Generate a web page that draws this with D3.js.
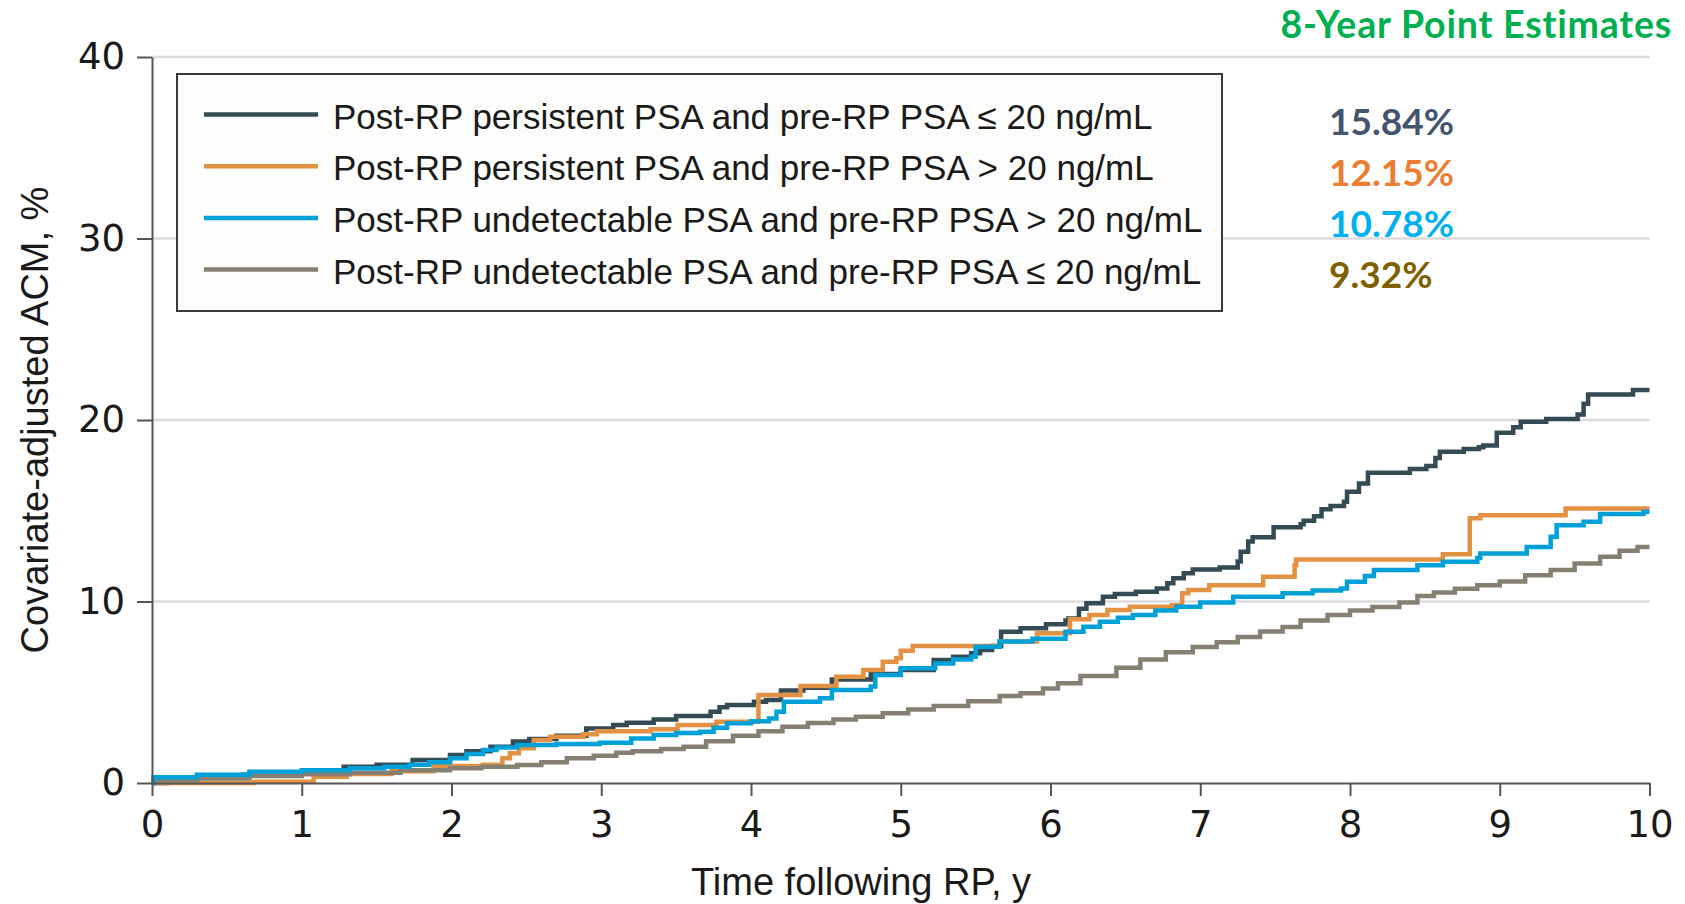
<!DOCTYPE html>
<html>
<head>
<meta charset="utf-8">
<script src="https://cdn.jsdelivr.net/npm/d3@7"></script>
<style>
    body { margin: 0; background: #fff; }
    svg { display: block; }
    .tick text { font-family: 'DejaVu Sans', sans-serif; font-size: 37px; fill: #1a1a1a; }
</style>
</head>
<body>
<div class="canvas"></div>
<script>
// legend labels, in the same order as the series below
const seriesLabels = [
    'Post-RP persistent PSA and pre-RP PSA \u2264 20 ng/mL',
    'Post-RP persistent PSA and pre-RP PSA > 20 ng/mL',
    'Post-RP undetectable PSA and pre-RP PSA > 20 ng/mL',
    'Post-RP undetectable PSA and pre-RP PSA \u2264 20 ng/mL'
]

const estimateTitle = '8-Year Point Estimates'
const estimates = ['15.84%', '12.15%', '10.78%', '9.32%']

const xTicks = [0, 1, 2, 3, 4, 5, 6, 7, 8, 9, 10]
const yTicks = [0, 10, 20, 30, 40]

// step points [year, ACM %]
const persistLow = [
    [0, 0], [0.1, 0.15], [0.3, 0.3], [0.6, 0.45], [1.0, 0.6], [1.28, 0.9], [1.5, 1.0],
    [1.74, 1.27], [1.99, 1.54], [2.1, 1.75], [2.26, 2.0], [2.41, 2.28], [2.52, 2.42],
    [2.7, 2.6], [2.9, 3.0], [3.08, 3.2], [3.17, 3.32], [3.35, 3.5], [3.5, 3.69],
    [3.73, 3.93], [3.79, 4.17], [3.84, 4.3], [4.02, 4.48], [4.1, 4.57], [4.2, 5.1],
    [4.35, 5.25], [4.54, 5.7], [4.8, 6.0], [5.0, 6.23], [5.22, 6.78], [5.35, 6.96],
    [5.47, 7.15], [5.53, 7.33], [5.61, 7.55], [5.67, 8.34], [5.8, 8.52], [5.97, 8.75],
    [6.1, 8.95], [6.12, 9.07], [6.19, 9.6], [6.24, 9.9], [6.35, 10.26], [6.43, 10.41],
    [6.57, 10.54], [6.71, 10.72], [6.78, 11.0], [6.82, 11.28], [6.89, 11.55], [6.95, 11.77],
    [7.13, 11.88], [7.25, 12.2], [7.27, 12.74], [7.32, 13.3], [7.35, 13.54], [7.49, 14.09],
    [7.67, 14.25], [7.69, 14.45], [7.76, 14.7], [7.81, 15.08], [7.87, 15.26], [7.96, 15.5],
    [7.98, 16.05], [8.06, 16.5], [8.12, 17.1], [8.4, 17.3], [8.51, 17.47], [8.57, 17.9],
    [8.6, 18.25], [8.76, 18.4], [8.86, 18.5], [8.89, 18.6], [8.98, 19.3], [9.09, 19.6],
    [9.14, 19.9], [9.31, 20.05], [9.52, 20.3], [9.56, 20.9], [9.59, 21.4], [9.89, 21.65],
    [10, 21.65]
]

const persistHigh = [
    [0, 0], [0.68, 0.07], [1.08, 0.35], [1.3, 0.5], [1.6, 0.65], [1.88, 0.94], [2.21, 1.0],
    [2.34, 1.36], [2.39, 1.64], [2.45, 1.91], [2.55, 2.37], [2.66, 2.55], [2.88, 2.68],
    [2.97, 2.85], [3.33, 2.96], [3.51, 3.2], [3.77, 3.38], [4.05, 4.85], [4.33, 5.34],
    [4.57, 5.86], [4.75, 6.23], [4.88, 6.68], [4.97, 6.87], [5.0, 7.29], [5.08, 7.55],
    [5.66, 7.79], [5.91, 8.25], [6.13, 9.02], [6.26, 9.26], [6.38, 9.53], [6.53, 9.71],
    [6.81, 9.8], [6.88, 10.45], [6.92, 10.63], [7.06, 10.9], [7.42, 11.37], [7.63, 12.0],
    [7.64, 12.32], [8.62, 12.6], [8.8, 14.58], [8.87, 14.75], [9.44, 15.13], [10, 15.13]
]

const undetHigh = [
    [0, 0], [0.01, 0.31], [0.3, 0.45], [0.65, 0.62], [1.0, 0.7], [1.32, 0.81], [1.55, 0.9],
    [1.72, 1.0], [1.85, 1.15], [1.99, 1.36], [2.1, 1.6], [2.21, 1.82], [2.3, 1.95],
    [2.44, 2.09], [2.7, 2.15], [2.99, 2.22], [3.2, 2.45], [3.35, 2.64], [3.5, 2.75],
    [3.66, 2.83], [3.75, 3.05], [3.84, 3.29], [4.0, 3.4], [4.12, 3.56], [4.17, 3.93],
    [4.22, 4.48], [4.46, 4.67], [4.54, 5.12], [4.8, 5.31], [4.83, 5.95], [5.0, 6.32],
    [5.23, 6.59], [5.35, 6.8], [5.47, 6.96], [5.5, 7.51], [5.66, 7.8], [5.88, 7.95],
    [6.1, 8.34], [6.22, 8.61], [6.33, 8.89], [6.45, 9.1], [6.55, 9.26], [6.7, 9.5],
    [6.84, 9.71], [7.0, 9.95], [7.22, 10.26], [7.55, 10.45], [7.75, 10.6], [7.94, 10.72],
    [7.98, 11.09], [8.1, 11.4], [8.16, 11.74], [8.45, 12.0], [8.62, 12.19], [8.85, 12.4],
    [8.87, 12.65], [9.18, 13.0], [9.34, 13.57], [9.38, 14.2], [9.56, 14.4], [9.67, 14.82],
    [9.96, 14.95], [10, 14.95]
]

const undetLow = [
    [0, 0], [0.01, 0.16], [0.3, 0.25], [0.65, 0.39], [1.0, 0.48], [1.32, 0.57], [1.66, 0.7],
    [1.99, 0.81], [2.2, 0.9], [2.44, 0.99], [2.6, 1.15], [2.77, 1.36], [2.95, 1.5],
    [3.1, 1.67], [3.21, 1.75], [3.4, 1.88], [3.55, 2.0], [3.7, 2.3], [3.88, 2.6],
    [4.05, 2.85], [4.21, 3.1], [4.38, 3.3], [4.55, 3.5], [4.7, 3.65], [4.88, 3.84],
    [5.05, 4.05], [5.22, 4.24], [5.45, 4.5], [5.66, 4.79], [5.8, 4.95], [5.95, 5.2],
    [6.05, 5.5], [6.2, 5.9], [6.44, 6.35], [6.6, 6.8], [6.77, 7.2], [6.95, 7.5],
    [7.11, 7.75], [7.25, 8.05], [7.4, 8.35], [7.55, 8.6], [7.67, 8.95], [7.85, 9.25],
    [8.0, 9.5], [8.15, 9.7], [8.33, 9.95], [8.45, 10.3], [8.56, 10.5], [8.7, 10.7],
    [8.85, 10.9], [9.0, 11.1], [9.17, 11.45], [9.34, 11.74], [9.5, 12.1], [9.67, 12.47],
    [9.8, 12.8], [9.92, 13.0], [10, 13.0]
]

const seriesData = [persistLow, persistHigh, undetHigh, undetLow]
const lineColors = ['#344a54', '#e39142', '#00a1d9', '#858071']
const estimateColors = ['#44546a', '#ed7d31', '#00b0f0', '#7f6000']
// drawing order, bottom to top
const drawOrder = [0, 1, 3, 2]

const dims = { width: 1685, height: 904 }
const margins = { top: 57, right: 35.5, bottom: 121, left: 152 }

const svg = d3.select('.canvas')
    .append('svg')
    .attr('width', dims.width)
    .attr('height', dims.height)

// scales
const x = d3.scaleLinear()
    .domain([0, 10])
    .range([margins.left, dims.width - margins.right])

const y = d3.scaleLinear()
    .domain([0, 40])
    .range([dims.height - margins.bottom, margins.top])

// gridlines
svg.append('g')
    .selectAll('line')
    .data(yTicks.filter(d => d > 0))
    .enter()
    .append('line')
    .attr('x1', x(0))
    .attr('x2', x(10))
    .attr('y1', d => y(d))
    .attr('y2', d => y(d))
    .attr('stroke', '#dcdcdc')
    .attr('stroke-width', 2.5)

// step lines
const line = d3.line()
    .x(d => x(d[0]))
    .y(d => y(d[1]))
    .curve(d3.curveStepAfter)

svg.append('g')
    .selectAll('path')
    .data(drawOrder)
    .enter()
    .append('path')
    .attr('d', i => line(seriesData[i]))
    .attr('fill', 'none')
    .attr('stroke', i => lineColors[i])
    .attr('stroke-width', 4.5)
    .attr('stroke-linejoin', 'miter')

// axes
const xAxis = d3.axisBottom(x)
    .tickValues(xTicks)
    .tickSize(13)
    .tickSizeOuter(0)
    .tickPadding(15)

const yAxis = d3.axisLeft(y)
    .tickValues(yTicks)
    .tickSize(15)
    .tickSizeOuter(0)
    .tickPadding(12)

const xAxisG = svg.append('g')
    .attr('transform', `translate(0, ${y(0)})`)
    .call(xAxis)

const yAxisG = svg.append('g')
    .attr('transform', `translate(${x(0)}, 0)`)
    .call(yAxis)

svg.selectAll('.domain, .tick line')
    .attr('stroke', '#555')
    .attr('stroke-width', 2)

// axis titles
svg.append('text')
    .attr('x', 861)
    .attr('y', 895)
    .attr('text-anchor', 'middle')
    .attr('font-family', "'Liberation Sans', Arial, sans-serif")
    .attr('font-size', 38)
    .attr('fill', '#1a1a1a')
    .text('Time following RP, y')

svg.append('text')
    .attr('transform', 'translate(48, 420) rotate(-90)')
    .attr('text-anchor', 'middle')
    .attr('font-family', "'Liberation Sans', Arial, sans-serif")
    .attr('font-size', 38)
    .attr('fill', '#1a1a1a')
    .text('Covariate-adjusted ACM, %')

// legend
const legend = svg.append('g')

legend.append('rect')
    .attr('x', 177)
    .attr('y', 74)
    .attr('width', 1045)
    .attr('height', 237)
    .attr('fill', '#fdfdfb')
    .attr('stroke', '#3a3a3a')
    .attr('stroke-width', 2)

const rows = legend.selectAll('g.row')
    .data(seriesLabels)
    .enter()
    .append('g')
    .attr('class', 'row')
    .attr('transform', (d, i) => `translate(0, ${114.5 + i * 51.7})`)

rows.append('line')
    .attr('x1', 204)
    .attr('x2', 318)
    .attr('stroke', (d, i) => lineColors[i])
    .attr('stroke-width', 4.5)

rows.append('text')
    .attr('x', 333)
    .attr('y', 14)
    .attr('font-family', "'Liberation Sans', Arial, sans-serif")
    .attr('font-size', 35)
    .attr('fill', '#1a1a1a')
    .text(d => d)

// 8-year estimates
svg.append('text')
    .attr('x', 1672)
    .attr('y', 38)
    .attr('text-anchor', 'end')
    .attr('font-family', 'Lato, sans-serif')
    .attr('font-weight', 'bold')
    .attr('font-size', 37.5)
    .attr('letter-spacing', 0.8)
    .attr('fill', '#00b050')
    .text(estimateTitle)

svg.append('g')
    .selectAll('text')
    .data(estimates)
    .enter()
    .append('text')
    .attr('x', 1329)
    .attr('y', (d, i) => 135 + i * 51)
    .attr('font-family', 'Lato, sans-serif')
    .attr('font-weight', 'bold')
    .attr('font-size', 37)
    .attr('fill', (d, i) => estimateColors[i])
    .text(d => d)
</script>
</body>
</html>
